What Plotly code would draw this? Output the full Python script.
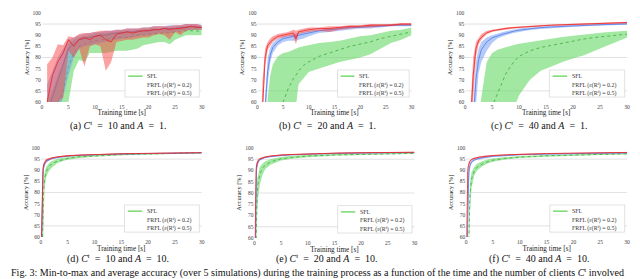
import plotly.graph_objects as go

# ---------------- data ----------------
y_ticks = [60, 65, 70, 75, 80, 85, 90, 95, 100]
x_ticks = [0, 5, 10, 15, 20, 25, 30]
grid_levels = [65, 80, 95]

series_names = ["SFL", "FRFL (ε(R<sup>t</sup>) = 0.2)", "FRFL (ε(R<sup>t</sup>) = 0.5)"]
captions = [
    "(a) <i>C</i><sup>t</sup>&nbsp; = &nbsp;10 and <i>A</i> &nbsp;= &nbsp;1.",
    "(b) <i>C</i><sup>t</sup>&nbsp; = &nbsp;20 and <i>A</i> &nbsp;= &nbsp;1.",
    "(c) <i>C</i><sup>t</sup>&nbsp; = &nbsp;40 and <i>A</i> &nbsp;= &nbsp;1.",
    "(d) <i>C</i><sup>t</sup>&nbsp; = &nbsp;10 and <i>A</i> &nbsp;= &nbsp;10.",
    "(e) <i>C</i><sup>t</sup>&nbsp; = &nbsp;20 and <i>A</i> &nbsp;= &nbsp;10.",
    "(f) <i>C</i><sup>t</sup>&nbsp; = &nbsp;40 and <i>A</i> &nbsp;= &nbsp;10.",
]
fig_caption = ("Fig. 3: Min-to-max and average accuracy (over 5 simulations) during the training process "
               "as a function of the time and the number of clients <i>C</i><sup>t</sup> involved")

# panel (a)
t_a = [1, 2, 3, 4, 5, 6, 7, 8, 9, 10, 11, 12, 13, 14, 15, 16, 17, 18, 19, 20, 21, 22, 23, 24, 25, 26, 27, 28, 29, 30]
sfl_min_a = [45, 48, 52, 56, 60, 74, 79, 78, 82, 82, 82, 82, 82.5, 83, 83, 83, 83.5, 84, 85.5, 86, 86.5, 87, 87, 86, 88, 89, 90, 90, 90, 90]
sfl_avg_a = [50, 55, 60, 65, 76, 82, 85, 86, 87, 87.5, 88, 88, 88.5, 89, 89, 89, 89.5, 90, 90, 90.5, 90.5, 91, 91, 91, 91.5, 91.5, 92, 92, 92, 91.5]
sfl_max_a = [60, 65, 72, 78, 86, 88, 89, 89.5, 90, 90.5, 91, 91, 91.5, 91.5, 92, 92, 92, 92.5, 92.5, 93, 93, 93, 93.5, 93.5, 93.5, 94, 94, 94, 94, 93.5]
fr2_min_a = [45, 50, 55, 62, 72, 80, 84, 85, 85.5, 86, 86.5, 87, 87.5, 88, 88.5, 88.5, 89, 89.5, 90, 90, 90.5, 91, 91, 91, 91.5, 92, 92, 92.5, 92.5, 92.5]
fr2_avg_a = [55, 62, 70, 77, 84, 86, 88, 88.5, 89, 89.5, 90, 90, 90.5, 91, 91, 91.5, 91.5, 92, 92, 92, 92.5, 92.5, 93, 93, 93, 93.5, 93.5, 94, 94, 93.5]
fr2_max_a = [68, 74, 80, 84, 88, 89, 90, 90.5, 91, 91.5, 91.5, 92, 92, 92.5, 92.5, 93, 93, 93, 93.5, 93.5, 94, 94, 94, 94.5, 94.5, 94.5, 95, 95, 95, 94.5]
fr5_min_a = [50, 55, 60, 62, 83, 80, 84, 76, 85, 86, 85, 74, 78, 87, 87.5, 88, 88, 88.5, 89, 89, 90, 90.5, 90, 88, 91.5, 90, 92, 92.5, 92.5, 92.5]
fr5_avg_a = [60, 72, 78, 82, 88, 85, 88, 89, 88, 89.5, 90, 88, 87, 90.5, 91, 91.5, 91, 91.5, 92, 92, 92.5, 92.5, 93, 92.5, 93, 93, 93.5, 94, 93.5, 93.5]
fr5_max_a = [77, 80, 86, 85.5, 89.5, 89, 90.5, 91, 91, 91.5, 92, 92, 92, 92.5, 92.5, 93, 93, 93, 93.5, 93.5, 94, 94, 94, 94, 94.5, 94.5, 95, 95, 95, 94.5]

# panel (b)
t_b = [0.5, 1, 1.5, 2, 2.5, 3, 4, 5, 6, 7, 7.5, 8, 9, 10, 12, 14, 16, 18, 20, 22, 24, 26, 28, 30]
sfl_min_b = [10, 15, 20, 25, 30, 35, 40, 45, 50, 55, 58, 68, 71, 73.5, 75, 76.5, 78, 79, 80, 81.5, 84, 86.5, 88, 90]
sfl_avg_b = [10, 20, 30, 40, 45, 50, 55, 60, 66, 70.5, 72, 74, 76.5, 78, 80.5, 82, 83.5, 85, 86, 87, 88.5, 89.5, 90.5, 91.5]
sfl_max_b = [20, 30, 45, 62, 72, 77, 80.5, 82, 82.5, 83.5, 84, 84.5, 85, 85.5, 86.5, 87, 87.5, 88.5, 89.5, 90, 91, 92, 92.5, 93.5]
fr2_min_b = [20, 35, 50, 68, 78, 82, 85.5, 87, 87.5, 87.5, 87.5, 88, 88.5, 89.5, 91, 91.5, 92, 92.5, 93, 93, 93.5, 94, 94, 94]
fr2_avg_b = [25, 40, 55, 74, 81, 84.5, 87, 88.5, 89, 89.5, 89.5, 90, 90.5, 91, 92, 92.5, 93, 93.5, 93.5, 94, 94, 94.5, 94.5, 94.5]
fr2_max_b = [30, 45, 62, 80, 84.5, 86.5, 88.5, 89.5, 90, 90.5, 91, 91, 91.5, 92, 92.5, 93, 93.5, 94, 94, 94.5, 94.5, 95, 95, 95]
fr5_min_b = [30, 55, 76, 83.5, 85.5, 87, 88.5, 89, 89.5, 89.5, 86, 90.5, 91, 91.5, 92, 91.5, 92.5, 93, 93.5, 93.5, 94, 94, 94.5, 94.5]
fr5_avg_b = [35, 60, 80, 85.5, 87, 88, 89.5, 90, 90.5, 91, 88.5, 91.5, 92, 92.5, 93, 93, 93.5, 94, 94, 94.5, 94.5, 94.5, 95, 95]
fr5_max_b = [40, 70, 84, 87, 88.5, 89.5, 90.5, 91, 91.5, 92.5, 92, 92.5, 93, 93.5, 93.5, 94, 94, 94.5, 94.5, 95, 95, 95, 95.5, 95.5]

# panel (c)
t_c = [0.5, 1, 1.5, 2, 2.5, 3, 4, 5, 6, 7, 7.5, 8, 9, 10, 12, 14, 16, 18, 20, 22, 24, 26, 28, 30]
sfl_min_c = [5, 10, 15, 20, 25, 30, 35, 40, 45, 50, 52, 54, 57, 63, 70, 74, 76, 78, 79.5, 81, 83, 85, 87, 89]
sfl_avg_c = [10, 15, 20, 25, 30, 35, 45, 58, 64, 70, 72.5, 74.5, 78, 80.5, 83, 84.5, 85.5, 86.5, 87.5, 88.3, 89, 89.6, 90.1, 90.5]
sfl_max_c = [10, 20, 30, 40, 50, 62, 78, 82, 83.5, 84.3, 84.6, 85, 85.6, 86.2, 87, 87.8, 88.5, 89.2, 89.8, 90.4, 90.9, 91.3, 91.7, 92]
fr2_min_c = [15, 30, 45, 62, 73, 78, 83, 86.5, 88.5, 89.5, 90, 90.3, 91, 91.5, 92.3, 92.8, 93.2, 93.5, 93.8, 94, 94.2, 94.4, 94.5, 94.7]
fr2_avg_c = [20, 35, 52, 70, 79, 83.5, 87, 88.8, 89.8, 90.5, 90.8, 91.2, 91.8, 92.3, 93, 93.4, 93.7, 94, 94.2, 94.4, 94.6, 94.8, 94.9, 95.1]
fr2_max_c = [25, 40, 58, 78, 84, 87, 89, 90, 90.8, 91.5, 91.8, 92, 92.5, 93, 93.5, 94, 94.3, 94.5, 94.7, 94.9, 95, 95.2, 95.3, 95.5]
fr5_min_c = [25, 45, 65, 80, 86, 88, 90.5, 91.5, 92, 92.3, 92.5, 92.8, 93, 93.2, 93.6, 94, 94.2, 94.4, 94.6, 94.8, 95, 95.1, 95.2, 95.4]
fr5_avg_c = [30, 50, 72, 84, 87.5, 89, 91, 92, 92.5, 92.8, 93, 93.2, 93.4, 93.6, 94, 94.3, 94.5, 94.7, 94.9, 95.1, 95.2, 95.4, 95.5, 95.7]
fr5_max_c = [35, 58, 80, 87, 89, 90.5, 92, 92.5, 93, 93.3, 93.5, 93.6, 93.8, 94, 94.3, 94.6, 94.8, 95, 95.2, 95.4, 95.5, 95.7, 95.8, 96]

# panel (d)
t_d = [0, 0.1, 0.2, 0.3, 0.4, 0.5, 0.7, 1, 1.5, 2, 3, 4, 5, 7, 10, 15, 20, 25, 30]
sfl_min_d = [20, 30, 40, 55, 66, 74, 82, 87, 89.5, 91, 93, 94, 94.7, 95.4, 96.1, 96.7, 97.1, 97.4, 97.6]
sfl_avg_d = [25, 35, 48, 62, 74, 80, 86, 89.5, 91.5, 92.8, 94, 94.8, 95.3, 96, 96.5, 97, 97.3, 97.6, 97.8]
sfl_max_d = [30, 40, 55, 70, 80, 85, 89, 91.5, 93, 94, 95, 95.5, 96, 96.5, 97, 97.4, 97.7, 97.9, 98]
fr2_min_d = [35, 46, 62, 78, 85, 89, 91.8, 93.3, 94.3, 94.8, 95.4, 95.8, 96.1, 96.4, 96.8, 97.1, 97.3, 97.5, 97.6]
fr2_avg_d = [40, 52, 70, 84, 88.5, 91, 92.8, 94, 94.8, 95.2, 95.7, 96.1, 96.4, 96.7, 97, 97.3, 97.5, 97.7, 97.8]
fr2_max_d = [45, 58, 78, 88, 91, 92.5, 93.5, 94.5, 95.2, 95.6, 96, 96.4, 96.6, 96.9, 97.2, 97.5, 97.7, 97.9, 98]
fr5_min_d = [40, 50, 68, 82, 88, 90.5, 92.5, 94, 94.7, 95.2, 95.7, 96, 96.2, 96.5, 96.9, 97.2, 97.4, 97.6, 97.7]
fr5_avg_d = [45, 55, 75, 87, 90.5, 92, 93.5, 94.5, 95, 95.5, 96, 96.3, 96.5, 96.8, 97.1, 97.4, 97.6, 97.8, 97.9]
fr5_max_d = [50, 62, 82, 90, 92, 93, 94, 95, 95.5, 95.8, 96.2, 96.5, 96.8, 97, 97.3, 97.6, 97.8, 98, 98.1]

# panel (e)
t_e = [0, 0.1, 0.2, 0.3, 0.4, 0.5, 0.7, 1, 1.5, 2, 3, 4, 5, 7, 10, 15, 20, 25, 30]
sfl_min_e = [20, 30, 42, 56, 65, 71, 78, 83.5, 88, 90.5, 92.5, 93.6, 94.4, 95.2, 95.9, 96.5, 96.9, 97.2, 97.4]
sfl_avg_e = [25, 38, 52, 66, 74, 79, 84.5, 88.5, 91, 92.3, 93.8, 94.6, 95.2, 95.8, 96.4, 96.9, 97.2, 97.5, 97.6]
sfl_max_e = [30, 45, 62, 75, 82, 86, 89, 91.5, 93, 94, 95, 95.6, 96, 96.5, 97, 97.3, 97.6, 97.8, 97.9]
fr2_min_e = [30, 45, 70, 83, 88.5, 91, 93, 94.3, 95, 95.5, 95.9, 96.2, 96.5, 96.8, 97.1, 97.4, 97.6, 97.7, 97.8]
fr2_avg_e = [35, 52, 76, 86, 90.5, 92.3, 93.8, 94.8, 95.4, 95.8, 96.2, 96.5, 96.7, 97, 97.3, 97.6, 97.8, 97.9, 98]
fr2_max_e = [40, 60, 82, 89, 92, 93.3, 94.5, 95.2, 95.7, 96, 96.5, 96.8, 97, 97.2, 97.5, 97.8, 98, 98.1, 98.2]
fr5_min_e = [35, 55, 80, 88, 91.5, 92.8, 94, 94.9, 95.4, 95.8, 96.2, 96.5, 96.7, 96.9, 97.2, 97.5, 97.7, 97.8, 97.9]
fr5_avg_e = [40, 62, 84, 90, 92.5, 93.5, 94.5, 95.2, 95.7, 96, 96.4, 96.7, 96.9, 97.1, 97.4, 97.7, 97.9, 98, 98.1]
fr5_max_e = [45, 70, 88, 92, 93.5, 94.2, 95, 95.5, 96, 96.3, 96.7, 97, 97.1, 97.3, 97.6, 97.9, 98.1, 98.2, 98.3]

# panel (f)
t_f = [0, 0.1, 0.2, 0.3, 0.4, 0.5, 0.7, 1, 1.5, 2, 3, 4, 5, 7, 10, 15, 20, 25, 30]
sfl_min_f = [0, 10, 20, 30, 40, 50, 70, 82, 87.5, 89.8, 91.8, 93, 93.8, 94.7, 95.5, 96.1, 96.6, 96.9, 97.1]
sfl_avg_f = [5, 15, 25, 35, 45, 55, 78, 86, 89.5, 91.3, 92.8, 93.8, 94.5, 95.3, 95.9, 96.5, 96.9, 97.2, 97.4]
sfl_max_f = [10, 20, 30, 40, 50, 62, 84, 89, 91.5, 92.8, 94, 94.8, 95.3, 95.8, 96.4, 96.9, 97.2, 97.5, 97.7]
fr2_min_f = [25, 35, 50, 68, 80, 86.5, 90.8, 93, 94.1, 94.6, 95.2, 95.6, 96, 96.3, 96.7, 97, 97.3, 97.5, 97.6]
fr2_avg_f = [30, 42, 58, 76, 85, 89, 92, 93.7, 94.6, 95.1, 95.6, 96, 96.3, 96.6, 97, 97.3, 97.5, 97.7, 97.8]
fr2_max_f = [35, 50, 68, 83, 88.5, 91, 93, 94.3, 95.1, 95.5, 96, 96.3, 96.6, 96.9, 97.2, 97.5, 97.7, 97.9, 98]
fr5_min_f = [35, 58, 80, 87.5, 90.5, 92, 93.5, 94.4, 95.1, 95.4, 95.8, 96.1, 96.4, 96.7, 97, 97.3, 97.5, 97.7, 97.8]
fr5_avg_f = [40, 65, 84, 89.5, 91.8, 93, 94, 94.8, 95.4, 95.7, 96.1, 96.4, 96.6, 96.9, 97.2, 97.5, 97.7, 97.9, 98]
fr5_max_f = [45, 75, 88, 91.5, 93, 93.8, 94.5, 95.2, 95.7, 96, 96.4, 96.7, 96.9, 97.1, 97.4, 97.7, 97.9, 98, 98.2]

# ---------------- styling ----------------
FONT = "Liberation Serif"
FILLS = ["rgba(95,215,95,0.58)", "rgba(105,150,242,0.5)", "rgba(250,70,70,0.5)"]
LINES = ["rgb(60,170,60)", "rgb(80,120,232)", "rgb(235,35,35)"]
DASH = ["dot", "solid", "solid"]
LEGEND_SYMBOL = ["rgb(130,220,120)", "rgba(255,255,255,0)", "rgba(255,255,255,0)"]

panels = [
    (t_a, [(sfl_min_a, sfl_avg_a, sfl_max_a), (fr2_min_a, fr2_avg_a, fr2_max_a), (fr5_min_a, fr5_avg_a, fr5_max_a)]),
    (t_b, [(sfl_min_b, sfl_avg_b, sfl_max_b), (fr2_min_b, fr2_avg_b, fr2_max_b), (fr5_min_b, fr5_avg_b, fr5_max_b)]),
    (t_c, [(sfl_min_c, sfl_avg_c, sfl_max_c), (fr2_min_c, fr2_avg_c, fr2_max_c), (fr5_min_c, fr5_avg_c, fr5_max_c)]),
    (t_d, [(sfl_min_d, sfl_avg_d, sfl_max_d), (fr2_min_d, fr2_avg_d, fr2_max_d), (fr5_min_d, fr5_avg_d, fr5_max_d)]),
    (t_e, [(sfl_min_e, sfl_avg_e, sfl_max_e), (fr2_min_e, fr2_avg_e, fr2_max_e), (fr5_min_e, fr5_avg_e, fr5_max_e)]),
    (t_f, [(sfl_min_f, sfl_avg_f, sfl_max_f), (fr2_min_f, fr2_avg_f, fr2_max_f), (fr5_min_f, fr5_avg_f, fr5_max_f)]),
]

W, H = 640, 279
# plot-area pixel boxes (x0, x1, ytop, ybottom)
boxes = [(33, 194, 2, 93), (250, 405, 2, 93), (459, 622, 2, 93),
         (32, 194, 140, 231), (247, 408, 140, 232), (460, 622, 140, 231)]
caption_pos = [(110, 117), (320, 117), (534, 117), (110, 252.5), (320, 252.5), (533, 252.5)]

fig = go.Figure()
layout = dict(width=W, height=H, margin=dict(l=0, r=0, t=0, b=0),
              paper_bgcolor="white", plot_bgcolor="white", showlegend=False,
              font=dict(family=FONT, color="#222"))
shapes = []
annotations = []

for k, ((t, series), (x0, x1, yt, yb)) in enumerate(zip(panels, boxes)):
    n = k + 1
    xs = "x" if n == 1 else f"x{n}"
    ys = "y" if n == 1 else f"y{n}"
    for s, (lo, av, hi) in enumerate(series):
        fig.add_trace(go.Scatter(x=t, y=hi, mode="lines", line=dict(width=0, color=FILLS[s]),
                                 hoverinfo="skip", xaxis=xs, yaxis=ys))
        fig.add_trace(go.Scatter(x=t, y=lo, mode="lines", line=dict(width=0, color=FILLS[s]),
                                 fill="tonexty", fillcolor=FILLS[s], hoverinfo="skip",
                                 xaxis=xs, yaxis=ys))
        fig.add_trace(go.Scatter(x=t, y=av, mode="lines", name=series_names[s],
                                 line=dict(width=0.8, color=LINES[s], dash=DASH[s]),
                                 xaxis=xs, yaxis=ys))
    xkey = "xaxis" if n == 1 else f"xaxis{n}"
    ykey = "yaxis" if n == 1 else f"yaxis{n}"
    layout[xkey] = dict(domain=[x0 / W, x1 / W], range=[0, 30], tickvals=x_ticks,
                        showgrid=False, zeroline=False, showline=False, ticks="",
                        tickfont=dict(size=5.5, color="#444"), anchor=ys,
                        title=dict(text="Training time [s]", font=dict(size=7.2, color="#222"), standoff=1))
    layout[ykey] = dict(domain=[1 - yb / H, 1 - yt / H], range=[60, 100], tickvals=y_ticks,
                        showgrid=False, zeroline=False, showline=False, ticks="",
                        tickfont=dict(size=5.5, color="#444"), anchor=xs,
                        title=dict(text="Accuracy [%]", font=dict(size=6.4, color="#222"), standoff=2))
    xd = f"{xs} domain"
    yd = f"{ys} domain"
    for g in grid_levels:
        shapes.append(dict(type="line", xref=xd, yref=ys, x0=0, x1=1, y0=g, y1=g,
                           line=dict(color="#d6d6d6", width=0.7), layer="below"))
    # legend box
    shapes.append(dict(type="rect", xref=xd, yref=yd, x0=0.52, x1=0.985, y0=0.055, y1=0.36,
                       fillcolor="rgba(255,255,255,0.92)", line=dict(color="#cfcfcf", width=0.6)))
    rows = [0.29, 0.195, 0.105]
    for s in range(3):
        shapes.append(dict(type="line", xref=xd, yref=yd, x0=0.54, x1=0.63, y0=rows[s], y1=rows[s],
                           line=dict(color=LEGEND_SYMBOL[s], width=1.6)))
        annotations.append(dict(xref=xd, yref=yd, x=0.645, y=rows[s], xanchor="left", yanchor="middle",
                                text=series_names[s], showarrow=False,
                                font=dict(size=5.9, color="#333", family=FONT)))
    cx, cy = caption_pos[k]
    annotations.append(dict(xref="paper", yref="paper", x=cx / W, y=1 - cy / H, xanchor="center",
                            yanchor="middle", text=captions[k], showarrow=False,
                            font=dict(size=10.0, color="#111", family=FONT)))

annotations.append(dict(xref="paper", yref="paper", x=0, y=1 - 267 / H, xanchor="left",
                        yanchor="middle", text=fig_caption, showarrow=False,
                        font=dict(size=10.05, color="#111", family=FONT)))

layout["shapes"] = shapes
layout["annotations"] = annotations
fig.update_layout(**layout)
fig.write_html("out.html")
